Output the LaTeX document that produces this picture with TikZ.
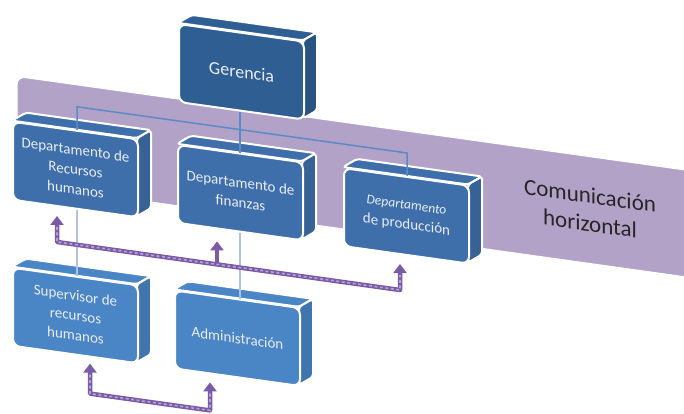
\documentclass[tikz,border=0pt]{standalone}
\usepackage{fontspec}
\setmainfont{Carlito}
\usetikzlibrary{arrows.meta,calc}

\definecolor{bandcol}{HTML}{B3A2C7}
\definecolor{gercol}{HTML}{2F5E93}
\definecolor{deptcol}{HTML}{3E6FAB}
\definecolor{subcol}{HTML}{4A85C6}
\definecolor{treecol}{HTML}{5B8AC8}
\definecolor{treelight}{HTML}{AFC3DF}
\definecolor{arrowcol}{HTML}{7B5BA7}
\definecolor{stitchcol}{HTML}{B3A3CF}
\definecolor{labelcol}{HTML}{E9EDF3}

\tikzset{
  boxface/.style={anchor=north west, draw=white, line width=2pt, rounded corners=7pt,
    minimum width=125pt, minimum height=78pt, inner sep=2pt, align=center,
    text=labelcol, font=\fontsize{15}{20}\selectfont, transform shape},
  boxside/.style={draw=white, line width=2pt, rounded corners=3pt, line join=round},
  tline/.style={draw=treecol, line width=1.5pt},
  lline/.style={draw=treelight, line width=2pt},
  parrow/.style={draw=arrowcol, line width=4.5pt, line join=round,
    {Triangle[width=13pt,length=9pt]}-{Triangle[width=13pt,length=9pt]}},
  pone/.style={draw=arrowcol, line width=4.5pt, -{Triangle[width=13pt,length=9pt]}},
  stitch/.style={draw=stitchcol, line width=1.6pt, dash pattern=on 3pt off 2.5pt}
}

% #1 name, #2 left x, #3 top, #4 fill colour, #5 label
\newcommand{\orgbox}[5]{%
  \path[boxside, fill=#4] (#2,#3) -- ++(14,-10) -- ++(125,0) -- ++(-14,10) -- cycle;
  \path[boxside, fill=#4!88!black] (#2+125,#3) -- ++(14,-10) -- ++(0,78) -- ++(-14,10) -- cycle;
  \node[boxface, fill=#4] (#1) at (#2,#3) {#5};
}

\begin{document}
\begin{tikzpicture}[x=1pt,y=-1pt]
\useasboundingbox (0,0) rectangle (684,414);
\begin{scope}[yslant=-0.14]
  % horizontal communication band
  \path[fill=bandcol, draw=white, line width=1.2pt, rounded corners=8pt]
    (17,181) -- (17,74) -- (700,74) [sharp corners] -- (700,181) -- cycle;
  \node[font=\fontsize{23}{28}\selectfont, text=black!85, align=center, transform shape]
    (lbl) at (590,127) {Comunicación\\horizontal};

  % boxes
  \orgbox{g}{178}{-2}{gercol}{\fontsize{18}{21}\selectfont Gerencia}
  \orgbox{rh}{12}{119}{deptcol}{Departamento de\\Recursos\\humanos}
  \orgbox{f}{177}{119}{deptcol}{Departamento de\\finanzas}
  \orgbox{p}{343}{119}{deptcol}{\fontsize{13.5}{18}\selectfont\itshape Departamento\\de producción}
  \orgbox{s}{12}{265}{subcol}{Supervisor de\\recursos\\humanos}
  \orgbox{a}{174}{265}{subcol}{Administración}

  % hierarchy lines
  \draw[tline] ($(g.south west)+(62,0)$) -- ($(f.north west)+(63,0)$);
  \draw[tline] ($(rh.north west)+(65,0)$) -- ($(rh.north west)+(65,-23)$)
    -- ($(p.north west)+(64,-23)$) -- ($(p.north west)+(64,0)$);
  \draw[lline] ($(rh.south west)+(65,0)$) -- ($(s.north west)+(65,0)$);
  \draw[lline] ($(f.south west)+(63,0)$) -- ($(a.north west)+(66,0)$);

  % communication arrows between departments
  \draw[parrow] ($(rh.south west)+(45,9)$) -- ($(rh.south west)+(45,35)$)
    -- ($(p.south west)+(57,35)$) -- ($(p.south west)+(57,9)$);
  \draw[pone] ($(f.south west)+(40,35)$) -- ($(f.south west)+(40,12)$);
  \draw[stitch] ($(rh.south west)+(45,20)$) -- ($(rh.south west)+(45,35)$)
    -- ($(p.south west)+(57,35)$) -- ($(p.south west)+(57,20)$);

  \draw[parrow] ($(s.south west)+(78,6)$) -- ($(s.south west)+(78,36)$)
    -- ($(a.south west)+(36,36)$) -- ($(a.south west)+(36,8)$);
  \draw[stitch] ($(s.south west)+(78,17)$) -- ($(s.south west)+(78,36)$)
    -- ($(a.south west)+(36,36)$) -- ($(a.south west)+(36,19)$);
\end{scope}
\end{tikzpicture}
\end{document}
